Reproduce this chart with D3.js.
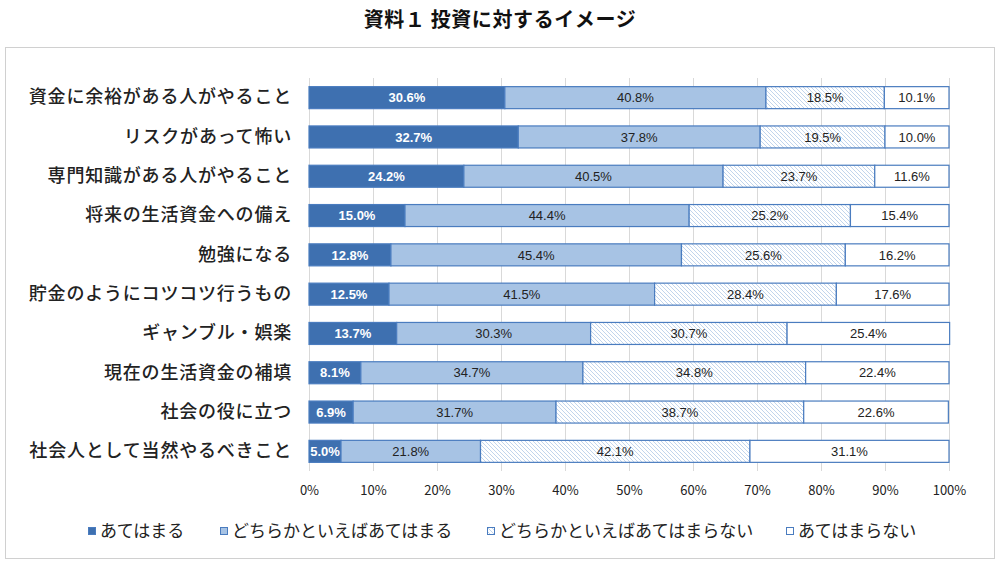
<!DOCTYPE html>
<html><head><meta charset="utf-8">
<script src="https://cdn.jsdelivr.net/npm/d3@7"></script>
<style>body{margin:0;background:#fff;font-family:"Noto Sans CJK JP","Noto Sans",sans-serif;}</style>
</head><body><svg id="c" width="1000" height="564"></svg>
<script>
const title = "資料１ 投資に対するイメージ";
const categories = ["資金に余裕がある人がやること","リスクがあって怖い","専門知識がある人がやること","将来の生活資金への備え","勉強になる","貯金のようにコツコツ行うもの","ギャンブル・娯楽","現在の生活資金の補填","社会の役に立つ","社会人として当然やるべきこと"];
const seriesNames = ["あてはまる","どちらかといえばあてはまる","どちらかといえばあてはまらない","あてはまらない"];
const s1 = [30.6,32.7,24.2,15.0,12.8,12.5,13.7,8.1,6.9,5.0];
const s2 = [40.8,37.8,40.5,44.4,45.4,41.5,30.3,34.7,31.7,21.8];
const s3 = [18.5,19.5,23.7,25.2,25.6,28.4,30.7,34.8,38.7,42.1];
const s4 = [10.1,10.0,11.6,15.4,16.2,17.6,25.4,22.4,22.6,31.1];
const ticks = [0,10,20,30,40,50,60,70,80,90,100];
const series = [s1,s2,s3,s4];

const svg = d3.select("#c");
const defs = svg.append("defs");
const pat = defs.append("pattern").attr("id","hatch").attr("patternUnits","userSpaceOnUse")
  .attr("width",4).attr("height",4);
pat.append("rect").attr("width",4).attr("height",4).attr("fill","#fff");
pat.append("path").attr("d","M-1,-1 L5,5 M-1,3 L1,5 M3,-1 L5,1").attr("stroke","#c2d5ec").attr("stroke-width",1);

const fills = ["#3e70b0","#a7c3e4","url(#hatch)","#ffffff"];
const stroke = "#4a7cbf";

svg.append("text").attr("x",500).attr("y",27).attr("text-anchor","middle")
  .attr("font-size",20).attr("letter-spacing","0.6px").attr("font-weight","bold").attr("fill","#111").text(title);
svg.append("rect").attr("x",5.5).attr("y",47.5).attr("width",989).attr("height",511)
  .attr("fill","none").attr("stroke","#d0d0d0");

const x = d3.scaleLinear().domain([0,100]).range([309,949]);
const y = d3.scaleBand().domain(categories).range([78,471]).paddingInner(0.44).paddingOuter(0.22);

const gx = svg.append("g").attr("transform","translate(0,471)")
  .call(d3.axisBottom(x).tickValues(ticks).tickFormat(d=>d+"%").tickSize(0).tickPadding(15));
gx.select(".domain").remove();
gx.selectAll("text").attr("font-size",13).attr("fill","#222").attr("font-family","'Noto Sans CJK JP',sans-serif");

svg.append("g").selectAll("line").data(ticks).join("line")
  .attr("x1",d=>x(d)+0.5).attr("x2",d=>x(d)+0.5).attr("y1",78).attr("y2",471)
  .attr("stroke","#d9d9d9").attr("stroke-width",1);

categories.forEach((c,i)=>{
  let acc=0;
  series.forEach((s,j)=>{
    const v=s[i];
    svg.append("rect").attr("x",x(acc)).attr("y",y(c)).attr("width",x(acc+v)-x(acc)).attr("height",y.bandwidth())
      .attr("fill",fills[j]).attr("stroke",stroke).attr("stroke-width",1.2);
    svg.append("text").attr("x",(x(acc)+x(acc+v))/2).attr("y",y(c)+y.bandwidth()/2).attr("dy","0.36em")
      .attr("text-anchor","middle").attr("font-size",13)
      .attr("font-weight",j===0?"bold":"normal").attr("fill",j===0?"#fff":"#222")
      .attr("font-family","'Liberation Sans',Arial,sans-serif")
      .text(v.toFixed(1)+"%");
    acc+=v;
  });
});

const gy = svg.append("g").attr("transform","translate(292,0)")
  .call(d3.axisLeft(y).tickSize(0).tickPadding(0));
gy.select(".domain").remove();
gy.selectAll("text").attr("font-size",18).attr("letter-spacing","0.8px").attr("fill","#222").attr("font-weight","500")
  .attr("font-family","'Noto Sans CJK JP',sans-serif");

const leg = svg.append("g");
seriesNames.forEach((n,j)=>{
  const xs=[88,220,487,786][j];
  const g=leg.append("g").attr("transform",`translate(${xs},531)`);
  g.append("rect").attr("x",0.5).attr("y",-3.5).attr("width",7).attr("height",7)
    .attr("fill",fills[j]).attr("stroke",stroke).attr("stroke-width",1);
  g.append("text").attr("x",12).attr("y",0).attr("dy","0.36em").attr("font-size",17)
    .attr("fill","#222").attr("font-family","'Noto Sans CJK JP',sans-serif").text(n);
});
</script></body></html>
